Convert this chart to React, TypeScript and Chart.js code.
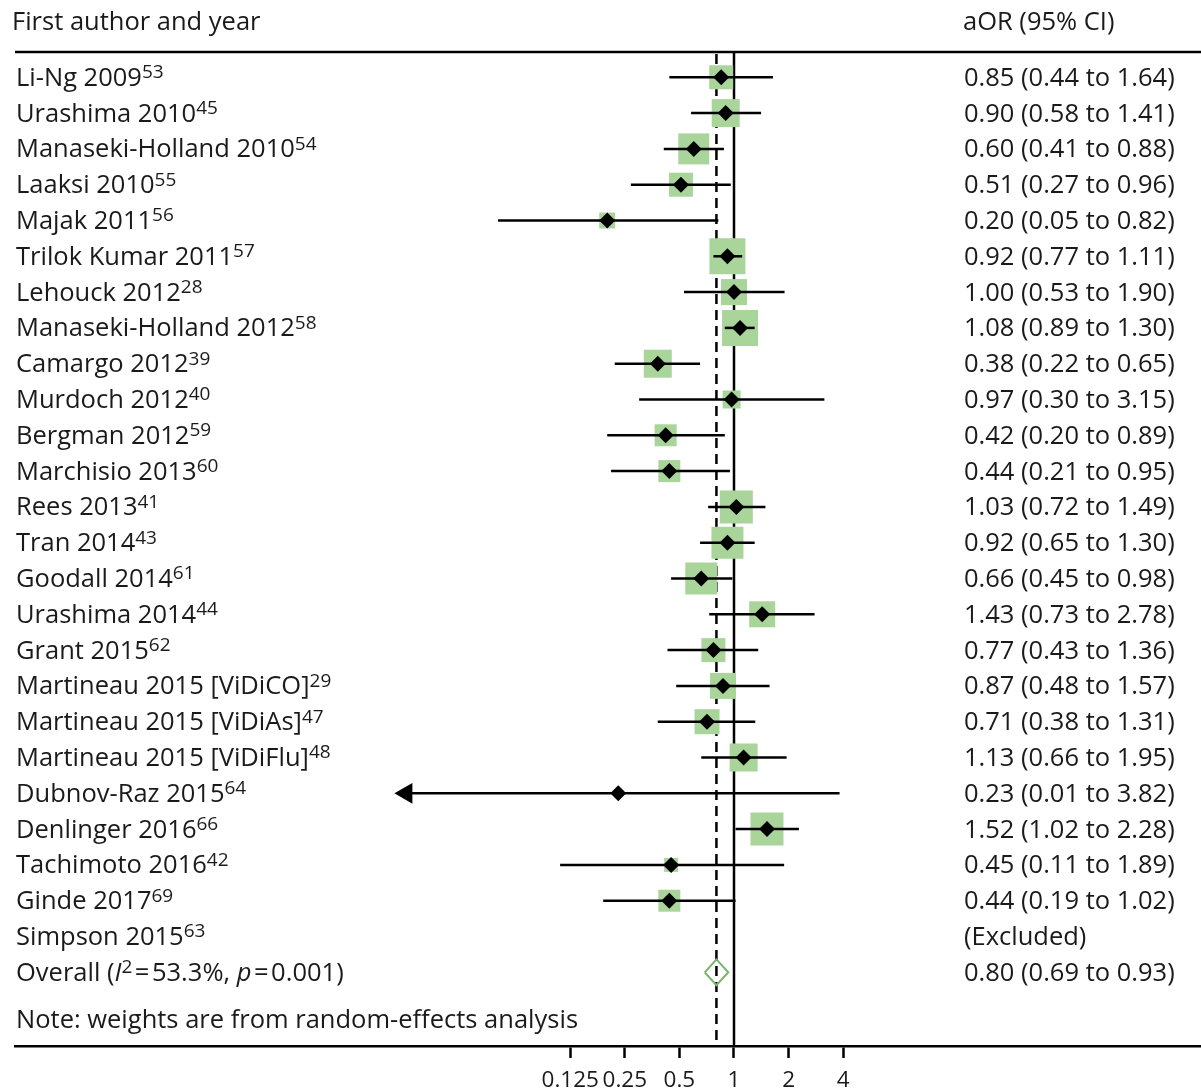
import React, { useEffect, useRef } from "react";
import { Chart, registerables } from "chart.js";

Chart.register(...registerables);

// ---------- data ----------
const studies = [
  "Li-Ng 2009", "Urashima 2010", "Manaseki-Holland 2010", "Laaksi 2010", "Majak 2011",
  "Trilok Kumar 2011", "Lehouck 2012", "Manaseki-Holland 2012", "Camargo 2012", "Murdoch 2012",
  "Bergman 2012", "Marchisio 2013", "Rees 2013", "Tran 2014", "Goodall 2014",
  "Urashima 2014", "Grant 2015", "Martineau 2015 [ViDiCO]", "Martineau 2015 [ViDiAs]",
  "Martineau 2015 [ViDiFlu]", "Dubnov-Raz 2015", "Denlinger 2016", "Tachimoto 2016", "Ginde 2017",
];
const refs = ["53", "45", "54", "55", "56", "57", "28", "58", "39", "40", "59", "60", "41", "43", "61",
  "44", "62", "29", "47", "48", "64", "66", "42", "69"];
const aor = [0.85, 0.90, 0.60, 0.51, 0.20, 0.92, 1.00, 1.08, 0.38, 0.97, 0.42, 0.44, 1.03, 0.92, 0.66,
  1.43, 0.77, 0.87, 0.71, 1.13, 0.23, 1.52, 0.45, 0.44];
const ciLow = [0.44, 0.58, 0.41, 0.27, 0.05, 0.77, 0.53, 0.89, 0.22, 0.30, 0.20, 0.21, 0.72, 0.65, 0.45,
  0.73, 0.43, 0.48, 0.38, 0.66, 0.01, 1.02, 0.11, 0.19];
const ciHigh = [1.64, 1.41, 0.88, 0.96, 0.82, 1.11, 1.90, 1.30, 0.65, 3.15, 0.89, 0.95, 1.49, 1.30, 0.98,
  2.78, 1.36, 1.57, 1.31, 1.95, 3.82, 2.28, 1.89, 1.02];
// box side in px (relative study weight)
const boxSize = [24, 28, 31, 24, 16, 36, 26, 36, 28, 18, 22, 22, 33, 32, 32,
  26, 24, 26, 25, 28, 8, 33, 14, 22];
const excludedStudy = "Simpson 2015";
const excludedRef = "63";
const overallEst = 0.80;
const overallLow = 0.69;
const overallHigh = 0.93;
const overallI2 = "53.3%";
const overallP = "0.001";
const tickValues = [0.125, 0.25, 0.5, 1, 2, 4];
const tickLabels = ["0.125", "0.25", "0.5", "1", "2", "4"];
const arrowClip = 1 / 64; // display limit on the left

const FONT = "'Open Sans', 'Noto Sans', sans-serif";
const TXT = "#1a1a1a";
const GREEN_BOX = "#a9d59b";
const GREEN_LINE = "#78b46a";
const FS = 25.5;

const fmt = (v: number) => v.toFixed(2);

type Seg = { t: string; it?: boolean; sup?: boolean };

function drawRich(ctx: CanvasRenderingContext2D, segs: Seg[], x: number, y: number, size: number) {
  let cx = x;
  for (const s of segs) {
    const fs = s.sup ? Math.round(size * 0.76) : size;
    ctx.font = `${s.it ? "italic " : ""}${fs}px ${FONT}`;
    ctx.fillText(s.t, cx, s.sup ? y - size * 0.3 : y);
    cx += ctx.measureText(s.t).width;
  }
}

const forestText = {
  id: "forestText",
  beforeDatasetsDraw(chart: any) {
    const { ctx, scales, chartArea } = chart;
    const xs = scales.x, ys = scales.y;
    const topY = ys.getPixelForValue(-0.71);
    ctx.save();
    ctx.strokeStyle = "#000";
    ctx.lineWidth = 2.5;
    ctx.beginPath();
    ctx.moveTo(chartArea.left, topY);
    ctx.lineTo(chartArea.right, topY);
    ctx.stroke();
    const x1 = xs.getPixelForValue(0);
    ctx.beginPath();
    ctx.moveTo(x1, topY);
    ctx.lineTo(x1, chartArea.bottom);
    ctx.stroke();
    const xo = xs.getPixelForValue(Math.log2(overallEst));
    ctx.setLineDash([10, 6]);
    ctx.beginPath();
    ctx.moveTo(xo, topY + 2);
    ctx.lineTo(xo, chartArea.bottom);
    ctx.stroke();
    ctx.restore();
  },
  afterDraw(chart: any) {
    const { ctx, scales } = chart;
    const ys = scales.y;
    const size = FS;
    ctx.save();
    ctx.fillStyle = TXT;
    ctx.textBaseline = "alphabetic";
    const base = (i: number) => ys.getPixelForValue(i) + 8.5;
    drawRich(ctx, [{ t: "First author and year" }], 12, base(-1.56), size);
    drawRich(ctx, [{ t: "aOR (95% CI)" }], 963, base(-1.56), size);
    studies.forEach((s, i) => {
      drawRich(ctx, [{ t: s }, { t: refs[i], sup: true }], 16, base(i), size);
      drawRich(ctx, [{ t: `${fmt(aor[i])} (${fmt(ciLow[i])} to ${fmt(ciHigh[i])})` }], 964, base(i), size);
    });
    const ne = studies.length;
    drawRich(ctx, [{ t: excludedStudy }, { t: excludedRef, sup: true }], 16, base(ne), size);
    drawRich(ctx, [{ t: "(Excluded)" }], 964, base(ne), size);
    drawRich(ctx, [
      { t: "Overall (" }, { t: "I", it: true }, { t: "2", sup: true }, { t: "\u200A=\u200A" + overallI2 + ", " },
      { t: "p", it: true }, { t: "\u200A=\u200A" + overallP + ")" },
    ], 16, base(ne + 1), size);
    drawRich(ctx, [{ t: `${fmt(overallEst)} (${fmt(overallLow)} to ${fmt(overallHigh)})` }], 964, base(ne + 1), size);
    drawRich(ctx, [{ t: "Note: weights are from random-effects analysis" }], 16, base(ne + 2.33), size);
    ctx.restore();
  },
};

export default function App() {
  const ref = useRef<HTMLCanvasElement>(null);
  useEffect(() => {
    document.body.style.margin = "0";
    const lg = (v: number) => Math.log2(v);
    const datasets: any[] = [];
    datasets.push({
      type: "scatter",
      data: aor.map((v, i) => ({ x: lg(v), y: i })),
      pointStyle: "rect",
      pointRadius: boxSize.map((s) => s / Math.SQRT2),
      backgroundColor: GREEN_BOX,
      borderWidth: 0,
      order: 5,
    });
    aor.forEach((_, i) => {
      const lo = Math.max(ciLow[i], arrowClip);
      datasets.push({
        type: "scatter",
        showLine: true,
        data: [{ x: lg(lo), y: i }, { x: lg(ciHigh[i]), y: i }],
        borderColor: "#000",
        borderWidth: 2.5,
        pointRadius: 0,
        order: 3,
      });
    });
    datasets.push({
      type: "scatter",
      data: aor.map((_, i) => (ciLow[i] < arrowClip ? { x: lg(arrowClip), y: i } : null)).filter(Boolean),
      pointStyle: "triangle",
      rotation: -90,
      pointRadius: 12,
      backgroundColor: "#000",
      borderWidth: 0,
      order: 2,
    });
    datasets.push({
      type: "scatter",
      data: aor.map((v, i) => ({ x: lg(v), y: i })),
      pointStyle: "rectRot",
      pointRadius: 8,
      backgroundColor: "#000",
      borderWidth: 0,
      order: 1,
    });
    const oy = studies.length + 1;
    datasets.push({
      type: "scatter",
      showLine: true,
      data: [
        { x: lg(overallLow), y: oy },
        { x: lg(overallEst), y: oy - 0.36 },
        { x: lg(overallHigh), y: oy },
        { x: lg(overallEst), y: oy + 0.36 },
        { x: lg(overallLow), y: oy },
      ],
      borderColor: GREEN_LINE,
      borderWidth: 2,
      pointRadius: 0,
      order: 1,
    });

    const pxPerDoubling = 54.6;
    const chart = new Chart(ref.current!, {
      type: "scatter",
      data: { datasets },
      plugins: [forestText],
      options: {
        animation: false,
        responsive: false,
        devicePixelRatio: 1,
        layout: { autoPadding: false, padding: { left: 15, right: 0, top: 0, bottom: 0 } },
        plugins: { legend: { display: false }, tooltip: { enabled: false } },
        scales: {
          x: {
            type: "linear",
            position: "bottom",
            min: (15 - 734) / pxPerDoubling,
            max: (1201 - 734) / pxPerDoubling,
            afterBuildTicks: (s: any) => {
              s.ticks = tickValues.map((v) => ({ value: Math.log2(v) }));
            },
            afterFit: (s: any) => {
              s.height = 42;
            },
            ticks: {
              autoSkip: false,
              maxRotation: 0,
              color: TXT,
              font: { family: FONT, size: 22.5 },
              padding: 9,
              callback: (v: any) => {
                const idx = tickValues.findIndex((t) => Math.abs(Math.log2(t) - v) < 1e-6);
                return idx >= 0 ? tickLabels[idx] : "";
              },
            },
            grid: { drawOnChartArea: false, drawTicks: true, tickLength: 12, color: "#000", tickWidth: 2.5 },
            border: { display: true, color: "#000", width: 2.5 },
          },
          y: {
            type: "linear",
            display: false,
            reverse: true,
            min: -77.3 / 35.8,
            max: -77.3 / 35.8 + 1046 / 35.8,
          },
        },
      },
    });
    return () => chart.destroy();
  }, []);
  return (
    <div style={{ width: 1201, height: 1088 }}>
      <canvas ref={ref} width={1201} height={1088} style={{ display: "block" }} />
    </div>
  );
}
